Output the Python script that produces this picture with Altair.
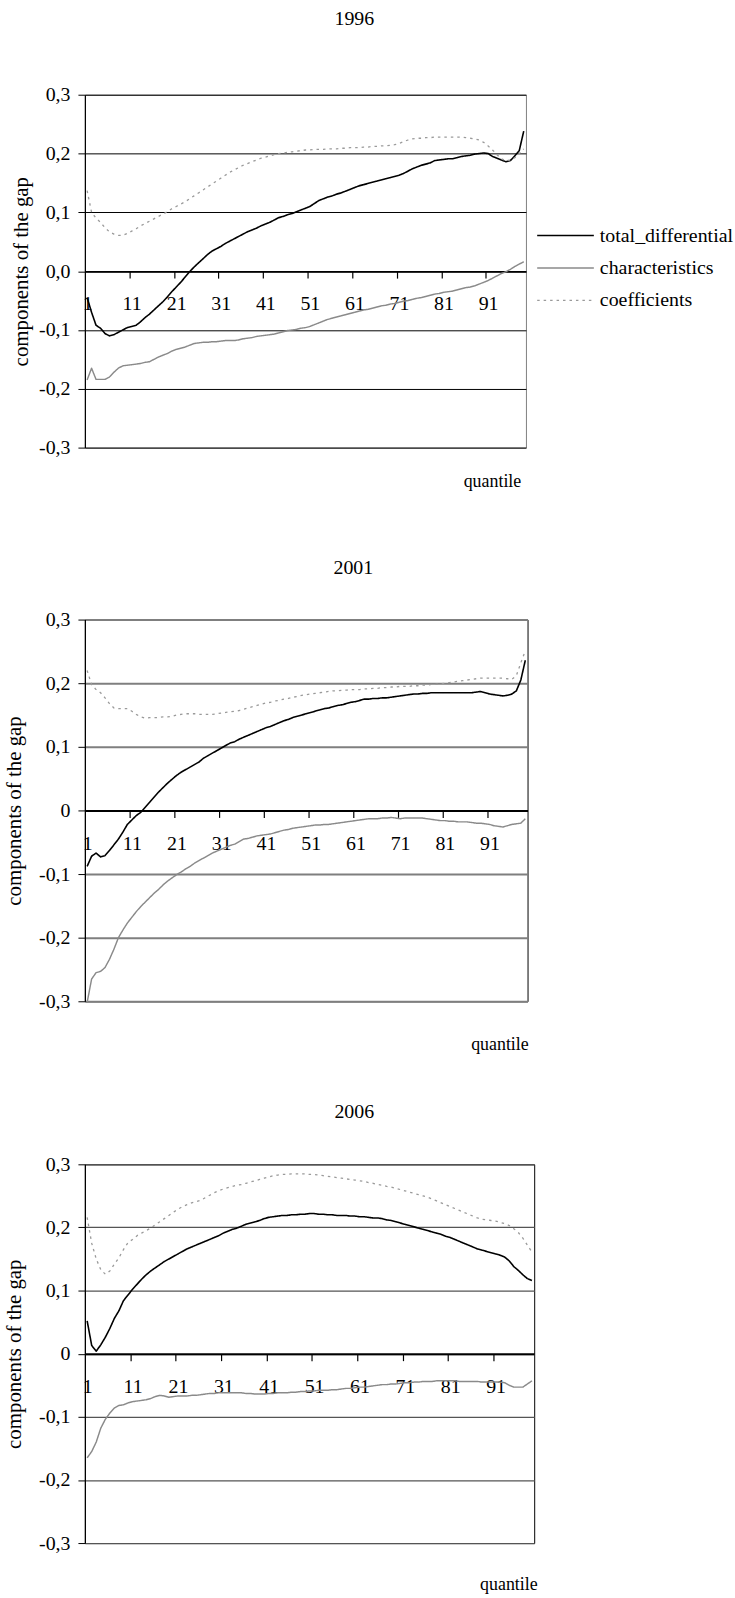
import altair as alt
import pandas as pd

quantiles = list(range(1, 100))
series_names = ["total_differential", "characteristics", "coefficients"]
years = ["1996", "2001", "2006"]

x_label_values = [1, 11, 21, 31, 41, 51, 61, 71, 81, 91]
x_tick_values = [10.5, 20.5, 30.5, 40.5, 50.5, 60.5, 70.5, 80.5, 90.5]
y_values = [-0.3, -0.2, -0.1, 0.0, 0.1, 0.2, 0.3]

total_1996 = [
    -0.045, -0.070, -0.092, -0.097, -0.106, -0.110, -0.108, -0.104, -0.100, -0.096,
    -0.094, -0.092, -0.086, -0.079, -0.073, -0.066, -0.059, -0.052, -0.044, -0.035,
    -0.027, -0.019, -0.010, -0.001, 0.007, 0.014, 0.021, 0.028, 0.034, 0.038,
    0.042, 0.047, 0.051, 0.055, 0.059, 0.063, 0.067, 0.070, 0.073, 0.077,
    0.080, 0.083, 0.087, 0.091, 0.093, 0.096, 0.098, 0.101, 0.104, 0.107,
    0.110, 0.115, 0.120, 0.123, 0.126, 0.128, 0.131, 0.133, 0.136, 0.139,
    0.142, 0.145, 0.147, 0.149, 0.151, 0.153, 0.155, 0.157, 0.159, 0.161,
    0.163, 0.166, 0.170, 0.174, 0.177, 0.180, 0.182, 0.184, 0.188, 0.189,
    0.190, 0.191, 0.191, 0.193, 0.195, 0.196, 0.197, 0.199, 0.200, 0.201,
    0.200, 0.195, 0.192, 0.189, 0.186, 0.188, 0.196, 0.205, 0.238]
char_1996 = [
    -0.185, -0.165, -0.184, -0.184, -0.184, -0.180, -0.172, -0.165, -0.161, -0.160,
    -0.159, -0.158, -0.157, -0.155, -0.154, -0.150, -0.146, -0.143, -0.140, -0.136,
    -0.133, -0.131, -0.129, -0.126, -0.123, -0.122, -0.121, -0.121, -0.120, -0.120,
    -0.119, -0.118, -0.118, -0.118, -0.117, -0.115, -0.114, -0.113, -0.111, -0.110,
    -0.109, -0.108, -0.107, -0.105, -0.103, -0.101, -0.100, -0.099, -0.097, -0.096,
    -0.094, -0.091, -0.088, -0.085, -0.082, -0.080, -0.078, -0.076, -0.074, -0.072,
    -0.070, -0.068, -0.066, -0.065, -0.063, -0.061, -0.059, -0.058, -0.056, -0.055,
    -0.053, -0.051, -0.050, -0.048, -0.046, -0.045, -0.043, -0.041, -0.039, -0.038,
    -0.036, -0.035, -0.034, -0.032, -0.030, -0.028, -0.027, -0.025, -0.022, -0.019,
    -0.016, -0.012, -0.008, -0.004, -0.001, 0.003, 0.008, 0.012, 0.016]
coef_1996 = [
    0.137, 0.100, 0.090, 0.083, 0.074, 0.067, 0.063, 0.061, 0.061, 0.064,
    0.068, 0.072, 0.077, 0.081, 0.085, 0.089, 0.093, 0.097, 0.101, 0.106,
    0.110, 0.114, 0.118, 0.123, 0.128, 0.133, 0.138, 0.143, 0.148, 0.153,
    0.158, 0.163, 0.168, 0.172, 0.176, 0.180, 0.183, 0.186, 0.189, 0.192,
    0.194, 0.196, 0.198, 0.200, 0.201, 0.202, 0.203, 0.204, 0.205, 0.206,
    0.206, 0.207, 0.207, 0.207, 0.208, 0.208, 0.208, 0.209, 0.209, 0.210,
    0.210, 0.210, 0.211, 0.211, 0.212, 0.212, 0.213, 0.213, 0.214, 0.215,
    0.217, 0.220, 0.223, 0.225, 0.226, 0.226, 0.227, 0.227, 0.228, 0.228,
    0.228, 0.228, 0.228, 0.228, 0.228, 0.227, 0.226, 0.225, 0.223, 0.219,
    0.213, 0.206, 0.198, 0.191, 0.188, 0.189, 0.193, 0.200, 0.208]

total_2001 = [
    -0.088, -0.072, -0.067, -0.073, -0.071, -0.063, -0.054, -0.045, -0.034, -0.022,
    -0.015, -0.008, -0.003, 0.005, 0.013, 0.021, 0.029, 0.036, 0.043, 0.049,
    0.055, 0.060, 0.064, 0.068, 0.072, 0.076, 0.082, 0.086, 0.090, 0.094,
    0.098, 0.102, 0.106, 0.108, 0.112, 0.115, 0.118, 0.121, 0.124, 0.127,
    0.130, 0.132, 0.135, 0.138, 0.141, 0.143, 0.146, 0.148, 0.150, 0.152,
    0.154, 0.156, 0.158, 0.160, 0.161, 0.163, 0.165, 0.166, 0.168, 0.170,
    0.171, 0.173, 0.175, 0.175, 0.176, 0.176, 0.177, 0.177, 0.178, 0.179,
    0.180, 0.181, 0.182, 0.183, 0.183, 0.184, 0.184, 0.185, 0.185, 0.185,
    0.185, 0.185, 0.185, 0.185, 0.185, 0.185, 0.185, 0.186, 0.187, 0.185,
    0.183, 0.182, 0.181, 0.180, 0.181, 0.183, 0.188, 0.205, 0.236]
char_2001 = [
    -0.302, -0.265, -0.255, -0.253, -0.247, -0.234, -0.218, -0.200, -0.188, -0.177,
    -0.168, -0.159, -0.151, -0.144, -0.137, -0.130, -0.124, -0.117, -0.111, -0.106,
    -0.101, -0.097, -0.092, -0.088, -0.083, -0.079, -0.075, -0.071, -0.067, -0.064,
    -0.061, -0.058, -0.055, -0.053, -0.049, -0.045, -0.044, -0.042, -0.040, -0.039,
    -0.038, -0.037, -0.035, -0.033, -0.031, -0.030, -0.028, -0.027, -0.026, -0.025,
    -0.024, -0.023, -0.023, -0.022, -0.022, -0.021, -0.020, -0.019, -0.018, -0.017,
    -0.016, -0.015, -0.014, -0.013, -0.013, -0.013, -0.012, -0.012, -0.011, -0.012,
    -0.013, -0.012, -0.012, -0.012, -0.012, -0.012, -0.013, -0.014, -0.015, -0.016,
    -0.016, -0.017, -0.017, -0.018, -0.018, -0.018, -0.019, -0.020, -0.020, -0.021,
    -0.022, -0.024, -0.025, -0.026, -0.024, -0.022, -0.021, -0.020, -0.013]
coef_2001 = [
    0.220, 0.198, 0.190, 0.185, 0.177, 0.168, 0.161, 0.160, 0.160, 0.160,
    0.156, 0.151, 0.147, 0.145, 0.146, 0.146, 0.146, 0.147, 0.147, 0.148,
    0.150, 0.151, 0.152, 0.152, 0.152, 0.151, 0.151, 0.151, 0.151, 0.152,
    0.153, 0.154, 0.155, 0.156, 0.157, 0.159, 0.161, 0.163, 0.165, 0.167,
    0.169, 0.170, 0.172, 0.173, 0.175, 0.176, 0.178, 0.179, 0.181, 0.182,
    0.183, 0.184, 0.185, 0.186, 0.187, 0.188, 0.188, 0.189, 0.189, 0.190,
    0.190, 0.190, 0.191, 0.191, 0.192, 0.192, 0.193, 0.193, 0.194, 0.194,
    0.195, 0.195, 0.195, 0.196, 0.196, 0.197, 0.197, 0.198, 0.198, 0.199,
    0.200, 0.201, 0.202, 0.203, 0.204, 0.205, 0.206, 0.207, 0.208, 0.208,
    0.208, 0.208, 0.208, 0.208, 0.207, 0.206, 0.212, 0.232, 0.251]

total_2006 = [
    0.052, 0.013, 0.004, 0.014, 0.026, 0.040, 0.056, 0.068, 0.084, 0.093,
    0.102, 0.110, 0.118, 0.125, 0.131, 0.136, 0.141, 0.146, 0.150, 0.154,
    0.158, 0.162, 0.166, 0.169, 0.172, 0.175, 0.178, 0.181, 0.184, 0.187,
    0.191, 0.194, 0.197, 0.199, 0.202, 0.205, 0.207, 0.209, 0.211, 0.214,
    0.216, 0.217, 0.218, 0.219, 0.219, 0.220, 0.220, 0.221, 0.221, 0.222,
    0.222, 0.221, 0.221, 0.220, 0.220, 0.219, 0.219, 0.219, 0.218, 0.218,
    0.217, 0.217, 0.216, 0.215, 0.215, 0.214, 0.212, 0.211, 0.209, 0.207,
    0.205, 0.203, 0.201, 0.199, 0.197, 0.195, 0.193, 0.191, 0.189, 0.186,
    0.184, 0.181, 0.178, 0.175, 0.172, 0.169, 0.166, 0.164, 0.162, 0.160,
    0.158, 0.156, 0.153, 0.147, 0.138, 0.132, 0.125, 0.119, 0.116]
char_2006 = [
    -0.165, -0.155, -0.140, -0.118, -0.104, -0.094, -0.086, -0.082, -0.081, -0.078,
    -0.076, -0.075, -0.074, -0.073, -0.071, -0.068, -0.066, -0.067, -0.069, -0.068,
    -0.067, -0.067, -0.067, -0.066, -0.066, -0.065, -0.064, -0.063, -0.063, -0.062,
    -0.062, -0.062, -0.062, -0.062, -0.062, -0.063, -0.063, -0.064, -0.064, -0.064,
    -0.063, -0.063, -0.062, -0.062, -0.062, -0.061, -0.061, -0.060, -0.060, -0.059,
    -0.059, -0.058, -0.058, -0.058, -0.057, -0.057, -0.056, -0.055, -0.055, -0.054,
    -0.053, -0.053, -0.052, -0.051, -0.050, -0.049, -0.049, -0.048, -0.048, -0.047,
    -0.046, -0.046, -0.045, -0.045, -0.044, -0.044, -0.044, -0.043, -0.043, -0.043,
    -0.043, -0.043, -0.044, -0.044, -0.044, -0.044, -0.044, -0.045, -0.045, -0.045,
    -0.045, -0.045, -0.046, -0.050, -0.053, -0.053, -0.053, -0.048, -0.043]
coef_2006 = [
    0.216, 0.175, 0.150, 0.133, 0.126, 0.131, 0.142, 0.152, 0.165, 0.176,
    0.181, 0.187, 0.191, 0.195, 0.199, 0.204, 0.209, 0.214, 0.219, 0.224,
    0.229, 0.233, 0.236, 0.239, 0.241, 0.243, 0.247, 0.251, 0.255, 0.258,
    0.261, 0.263, 0.265, 0.267, 0.268, 0.270, 0.272, 0.274, 0.276, 0.278,
    0.280, 0.282, 0.283, 0.284, 0.284, 0.285, 0.285, 0.285, 0.285, 0.284,
    0.284, 0.283, 0.282, 0.281, 0.280, 0.279, 0.278, 0.277, 0.276, 0.275,
    0.274, 0.273, 0.271, 0.270, 0.268, 0.267, 0.265, 0.264, 0.262, 0.260,
    0.258, 0.256, 0.254, 0.252, 0.250, 0.248, 0.245, 0.242, 0.239, 0.236,
    0.233, 0.230, 0.227, 0.224, 0.221, 0.218, 0.215, 0.213, 0.212, 0.211,
    0.210, 0.208, 0.206, 0.203, 0.198, 0.192, 0.183, 0.172, 0.161]

FONT = "Liberation Serif"


def make_df(tot, ch, co):
    rows = []
    for name, vals in zip(series_names, [tot, ch, co]):
        for q, v in zip(quantiles, vals):
            rows.append({"q": q, "v": v, "series": name})
    return pd.DataFrame(rows)


def panel(year, tot, ch, co, cfg):
    df = make_df(tot, ch, co)
    W, H = cfg["W"], cfg["H"]
    zero_lbl = cfg["zero"]
    label_expr = ("abs(datum.value) < 1e-9 ? '%s' : (datum.value < 0 ? '-' : '') + "
                  "replace(format(abs(datum.value), '.1f'), '.', ',')" % zero_lbl)
    y_axis = alt.Axis(
        values=y_values, labelExpr=label_expr, grid=True,
        gridColor=cfg["grid"], gridWidth=cfg["gridw"], gridOpacity=1,
        domain=True, domainColor="#000000", domainWidth=1.2,
        ticks=True, tickSize=7, tickColor="#000000", tickWidth=1,
        labelFont=FONT, labelFontSize=20, labelColor="#000000", labelPadding=8,
        labelFlush=False, labelOverlap=False,
        title="components of the gap", titleFont=FONT, titleFontSize=21, titleFontWeight="normal",
        titleColor="#000000", titleAngle=270, titleX=cfg["ytx"], titleY=H / 2,
        titleAlign="center", titleBaseline="alphabetic",
    )
    y_enc = alt.Y("v:Q", scale=alt.Scale(domain=[-0.3, 0.3], nice=False, zero=False), axis=y_axis)
    x_scale = alt.Scale(domain=[0.5, 99.5], nice=False, zero=False)
    label_axis = alt.Axis(
        orient="bottom", offset=-H / 2, values=x_label_values, format="d",
        domain=False, ticks=False, tickSize=0, grid=False,
        labelFont=FONT, labelFontSize=20, labelColor="#000000",
        labelBaseline="middle", labelPadding=33, labelFlush=False, labelOverlap=False,
        title=cfg["qtitle"], titleFont=FONT, titleFontSize=18, titleFontWeight="normal",
        titleColor="#000000", titleX=cfg["qx"], titleY=cfg["qy"], titleAlign="right",
        titleBaseline="alphabetic", titleLineHeight=cfg["qlh"], titleAngle=0,
    )
    tick_axis = alt.Axis(
        orient="bottom", offset=-H / 2, values=x_tick_values, labels=False,
        domain=True, domainColor="#000000", domainWidth=cfg["dw"],
        ticks=True, tickSize=7, tickColor="#000000", tickWidth=1.2, grid=False, title=None,
    )
    if cfg["legend"]:
        legend = alt.Legend(
            title=None, orient="none", legendX=454, legendY=131.7, direction="vertical",
            symbolType="stroke", symbolSize=3249, symbolOffset=0, labelOffset=5,
            labelFont=FONT, labelFontSize=20, labelColor="#000000", labelLimit=400,
            clipHeight=20, rowPadding=12.6, padding=0,
        )
    else:
        legend = None
    lines = alt.Chart(df).mark_line(strokeCap="butt", strokeJoin="round").encode(
        x=alt.X("q:Q", scale=x_scale, axis=label_axis),
        y=y_enc,
        color=alt.Color("series:N", legend=legend,
                        scale=alt.Scale(domain=series_names, range=["#000000", "#8a8a8a", "#9a9a9a"])),
        strokeDash=alt.StrokeDash("series:N", legend=legend,
                                  scale=alt.Scale(domain=series_names, range=[[1, 0], [1, 0], [2.5, 4]])),
        strokeWidth=alt.StrokeWidth("series:N", legend=legend,
                                    scale=alt.Scale(domain=series_names, range=[1.6, 1.3, 2.0])),
    )
    ticks = alt.Chart(df).mark_line(strokeOpacity=0).encode(
        x=alt.X("q:Q", scale=x_scale, axis=tick_axis),
        y=y_enc,
        detail="series:N",
    )
    return alt.layer(lines, ticks).resolve_axis(x="independent").properties(
        width=W, height=H,
        title=alt.TitleParams(year, font=FONT, fontSize=20, fontWeight="normal", color="#000000",
                              anchor="middle", frame="group", baseline="alphabetic",
                              offset=cfg["toff"], dx=cfg["tdx"]),
        view=alt.ViewBackground(stroke=cfg["border"], strokeWidth=1),
    )


cfgs = [
    dict(W=443.7, H=355, zero="0,0", grid="#000000", gridw=1, border="#808080", dw=1.5,
         toff=40.5, tdx=49.2, qx=438.5, qy=217, qtitle=["quantile", ""], qlh=20.7,
         ytx=-58.1, legend=True),
    dict(W=445.3, H=384, zero="0", grid="#7f7f7f", gridw=2, border="#000000", dw=2,
         toff=15.4, tdx=47.4, qx=446, qy=241, qtitle="quantile", qlh=20,
         ytx=-64.8, legend=False),
    dict(W=452, H=381, zero="0", grid="#555555", gridw=1.2, border="#000000", dw=2,
         toff=16.8, tdx=45, qx=455, qy=237.5, qtitle="quantile", qlh=20,
         ytx=-64.8, legend=False),
]

data_sets = [
    (total_1996, char_1996, coef_1996),
    (total_2001, char_2001, coef_2001),
    (total_2006, char_2006, coef_2006),
]

panels = [panel(y, *d, c) for y, d, c in zip(years, data_sets, cfgs)]

chart = alt.vconcat(*panels, spacing=46).resolve_scale(
    color="independent", strokeDash="independent", strokeWidth="independent"
).resolve_legend(
    color="independent", strokeDash="independent", strokeWidth="independent"
).properties(
    padding={"left": 2.4, "top": 3.5, "right": 0, "bottom": 0},
    background="white",
)

chart.save("out.html", embed_options={"renderer": "svg", "actions": False})
